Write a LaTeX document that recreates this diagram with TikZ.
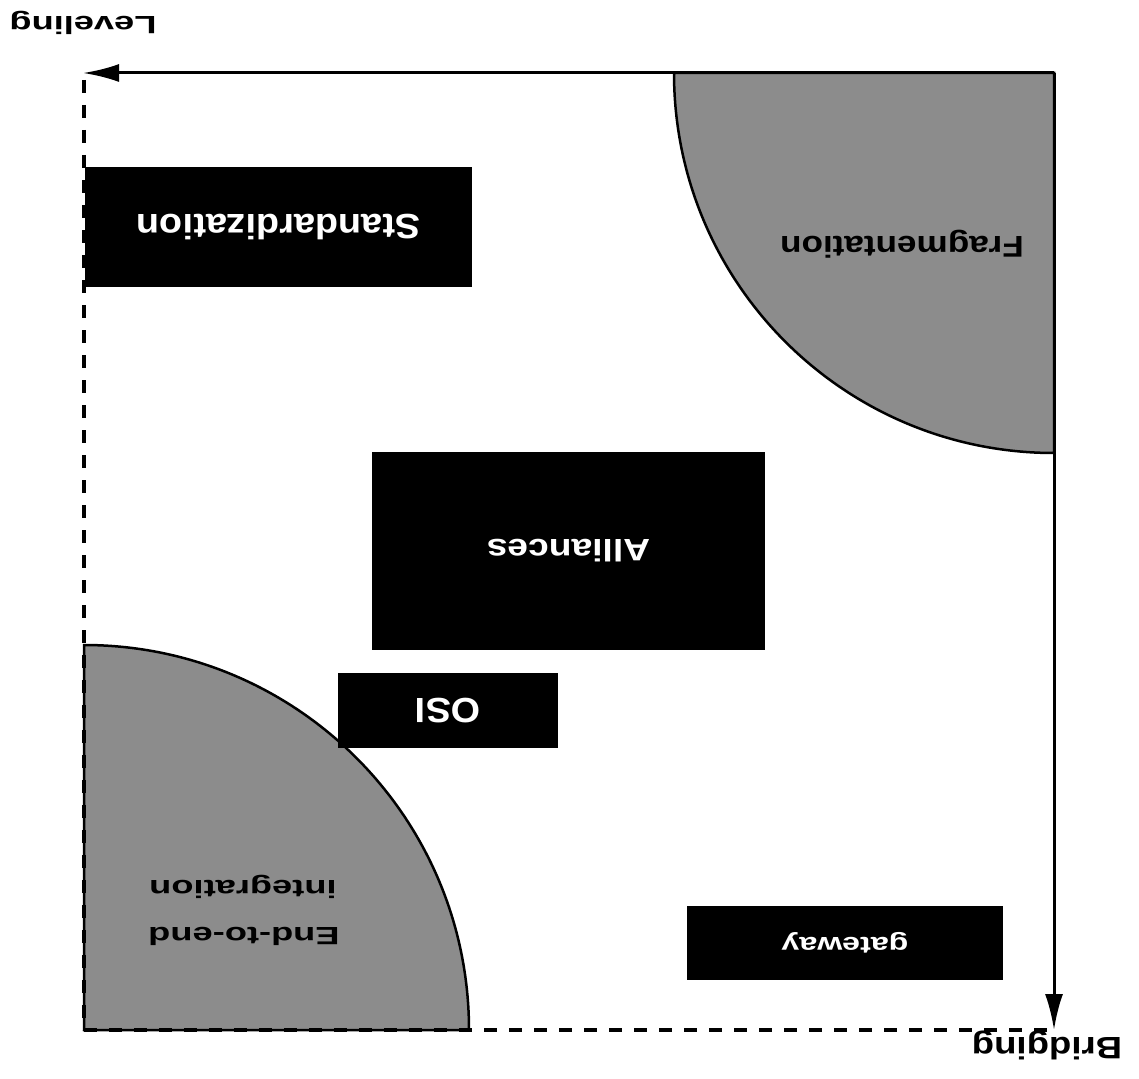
\documentclass[tikz,border=0pt]{standalone}
\usepackage{fontspec}
\usepackage{graphicx}
\setmainfont{Liberation Sans}
\usetikzlibrary{arrows.meta}
\newcommand{\wtxt}[2]{\scalebox{#1}[1]{#2}}
\newcommand{\fsz}[1]{\fontsize{#1}{#1}\selectfont}
\tikzset{
  blackbox/.style={fill=black, text=white, inner sep=0pt, rotate=180, font=\bfseries},
  flipped/.style={inner sep=0pt, rotate=180, font=\bfseries, text=black},
  quarter/.style={fill=black!45, draw=black, line width=2.5pt},
  axisline/.style={line width=3pt, -{Latex[length=36pt,width=18pt]}},
  dashline/.style={line width=3.5pt, dash pattern=on 13pt off 12pt}
}
\begin{document}
\begin{tikzpicture}[x=1pt,y=-1pt]
\useasboundingbox (0,0) rectangle (1139,1078);
% corner coordinates
\coordinate (O) at (1054,73);
\coordinate (L) at (83,73);
\coordinate (B) at (1054,1030);
\coordinate (C) at (84,1030);
\coordinate (CL) at (84,80);
% shaded quarter circles
\path[quarter] (1054,73) -- (674,73) arc[start angle=180, end angle=90, radius=380] -- cycle;
\path[quarter] (84,1030) -- (84,645) arc[start angle=270, end angle=360, radius=385] -- cycle;
% axes
\draw[axisline] (O) -- (L);
\draw[axisline] (O) -- (B);
\draw[dashline] (CL) -- (C);
\draw[dashline] (C) -- (B);
% boxes
\node[blackbox, minimum width=387pt, minimum height=120pt] (std) at (278.5,227) {\fsz{35}\wtxt{1.08}{Standardization}};
\node[blackbox, minimum width=393pt, minimum height=198pt] (all) at (568.5,551) {\fsz{31}\wtxt{1.2}{Alliances}};
\node[blackbox, minimum width=220pt, minimum height=75pt] (osi) at (448,710.5) {\fsz{35}\wtxt{1.08}{OSI}};
\node[blackbox, minimum width=316pt, minimum height=74pt] (gw) at (845,943) {\fsz{24}\wtxt{1.34}{gateway}};
% region labels
\node[flipped] (frag) at (902,244) {\fsz{30}\wtxt{1.17}{Fragmentation}};
\node[flipped] (e2e) at (244,936) {\fsz{25}\wtxt{1.45}{End-to-end}};
\node[flipped] (integ) at (243,887) {\fsz{25}\wtxt{1.45}{integration}};
% axis labels
\node[flipped] (lev) at (83,23) {\fsz{25}\wtxt{1.45}{Leveling}};
\node[flipped] (bri) at (1047,1045) {\fsz{31}\wtxt{1.18}{Bridging}};
\end{tikzpicture}
\end{document}
